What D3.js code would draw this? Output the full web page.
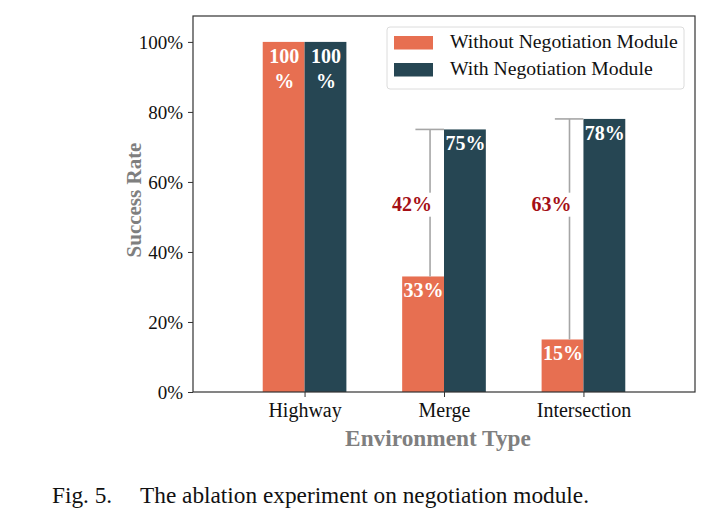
<!DOCTYPE html>
<html>
<head>
<meta charset="utf-8">
<script src="https://cdn.jsdelivr.net/npm/d3@7/dist/d3.min.js"></script>
<style>
  html, body { margin: 0; padding: 0; background: #fff; }
  svg { display: block; }
  text { font-family: "Liberation Serif", "Times New Roman", serif; }
</style>
</head>
<body>
<script>
const categories = ["Highway", "Merge", "Intersection"];
const seriesNames = ["Without Negotiation Module", "With Negotiation Module"];
const withoutValues = [100, 33, 15];
const withValues = [100, 75, 78];
const gapLabels = [null, "42%", "63%"];
const yTicks = [0, 20, 40, 60, 80, 100];
const colors = ["#E76F51", "#264653"];

(function () {
const W = 723, H = 521;
const pL = 193, pR = 695, pT = 16, pB = 392;
const svg = d3.select("body").append("svg").attr("width", W).attr("height", H);

const x = d3.scaleLinear().domain([-0.8, 2.8]).range([pL, pR]);
const y = d3.scaleLinear().domain([0, 107.4]).range([pB, pT]);
const bw = 0.3;

// bars
const series = [withoutValues, withValues];
series.forEach((vals, s) => {
  svg.append("g").selectAll("rect").data(vals).join("rect")
    .attr("x", (d, i) => x(i + (s === 0 ? -bw : 0)))
    .attr("y", d => y(d))
    .attr("width", x(bw) - x(0))
    .attr("height", d => y(0) - y(d))
    .attr("fill", colors[s]);
});

// brackets + gap labels
const gapLabelY = 53.5;
categories.forEach((c, i) => {
  if (!gapLabels[i]) return;
  const lx = x(i - bw / 2 + 0.05);
  const g = svg.append("g");
  g.append("line").attr("x1", x(i - bw / 2 - 0.055)).attr("x2", x(i))
    .attr("y1", y(withValues[i])).attr("y2", y(withValues[i]))
    .attr("stroke", "#a6a6a6").attr("stroke-width", 1.6);
  g.append("line").attr("x1", lx).attr("x2", lx)
    .attr("y1", y(withValues[i])).attr("y2", y(withoutValues[i]))
    .attr("stroke", "#a6a6a6").attr("stroke-width", 1.6);
  const t = g.append("text").attr("x", lx + 2).attr("y", y(gapLabelY) + 6)
    .attr("text-anchor", "end").attr("font-size", 20).attr("font-weight", "bold")
    .attr("fill", "#a50f15").text(gapLabels[i]);
  const bb = t.node().getBBox();
  g.insert("rect", "text").attr("x", bb.x - 1).attr("y", y(gapLabelY) - 12)
    .attr("width", bb.width + 2).attr("height", 24).attr("fill", "#fff");
});

// value labels
series.forEach((vals, s) => {
  vals.forEach((v, i) => {
    const cx = x(i + (s === 0 ? -bw / 2 : bw / 2)) + 0.5;
    if (v >= 100) {
      const t = svg.append("text").attr("x", cx).attr("text-anchor", "middle")
        .attr("font-size", 20).attr("font-weight", "bold").attr("fill", "#fff");
      t.append("tspan").attr("x", cx).attr("y", y(v) + 21).text(v);
      t.append("tspan").attr("x", cx).attr("y", y(v) + 46).text("%");
    } else {
      svg.append("text").attr("x", cx).attr("y", y(v) + 21)
        .attr("text-anchor", "middle").attr("font-size", 20).attr("font-weight", "bold")
        .attr("fill", "#fff").text(v + "%");
    }
  });
});

// axes
const yAxis = d3.axisLeft(y).tickValues(yTicks).tickFormat(d => d + "%").tickSize(5).tickPadding(5);
const gy = svg.append("g").attr("transform", `translate(${pL},0)`).call(yAxis);
gy.select(".domain").remove();
gy.selectAll("line").attr("stroke", "#333");
gy.selectAll("text").attr("font-size", 19).attr("fill", "#111")
  .attr("font-family", "Liberation Serif, Times New Roman, serif");

const xAxis = d3.axisBottom(x).tickValues(categories.map((c, i) => i)).tickFormat(i => categories[i]).tickSize(5).tickPadding(6);
const gx = svg.append("g").attr("transform", `translate(0,${pB})`).call(xAxis);
gx.select(".domain").remove();
gx.selectAll("line").attr("stroke", "#333");
gx.selectAll("text").attr("font-size", 20).attr("fill", "#111")
  .attr("font-family", "Liberation Serif, Times New Roman, serif");

// frame
svg.append("rect").attr("x", pL).attr("y", pT).attr("width", pR - pL).attr("height", pB - pT)
  .attr("fill", "none").attr("stroke", "#333").attr("stroke-width", 1.2);

// axis titles
svg.append("text").attr("transform", `translate(141,200) rotate(-90)`)
  .attr("text-anchor", "middle").attr("font-size", 21).attr("font-weight", "bold")
  .attr("fill", "#7f7f7f").text("Success Rate");
svg.append("text").attr("x", 438).attr("y", 446)
  .attr("text-anchor", "middle").attr("font-size", 23.3).attr("font-weight", "bold")
  .attr("fill", "#7f7f7f").text("Environment Type");

// legend
const lg = svg.append("g");
lg.append("rect").attr("x", 387).attr("y", 27).attr("width", 297).attr("height", 62)
  .attr("rx", 3).attr("fill", "#fff").attr("fill-opacity", 0.85).attr("stroke", "#dcdcdc");
seriesNames.forEach((n, k) => {
  lg.append("rect").attr("x", 394).attr("y", 36 + k * 27).attr("width", 39).attr("height", 13.5)
    .attr("fill", colors[k]);
  lg.append("text").attr("x", 450).attr("y", 48 + k * 27).attr("font-size", 19.7)
    .attr("fill", "#111").text(n);
});

// caption
svg.append("text").attr("x", 52).attr("y", 503).attr("font-size", 23.3).attr("fill", "#111")
  .text("Fig. 5.");
svg.append("text").attr("x", 140).attr("y", 503).attr("font-size", 23.3).attr("fill", "#111")
  .text("The ablation experiment on negotiation module.");
})();
</script>
</body>
</html>
